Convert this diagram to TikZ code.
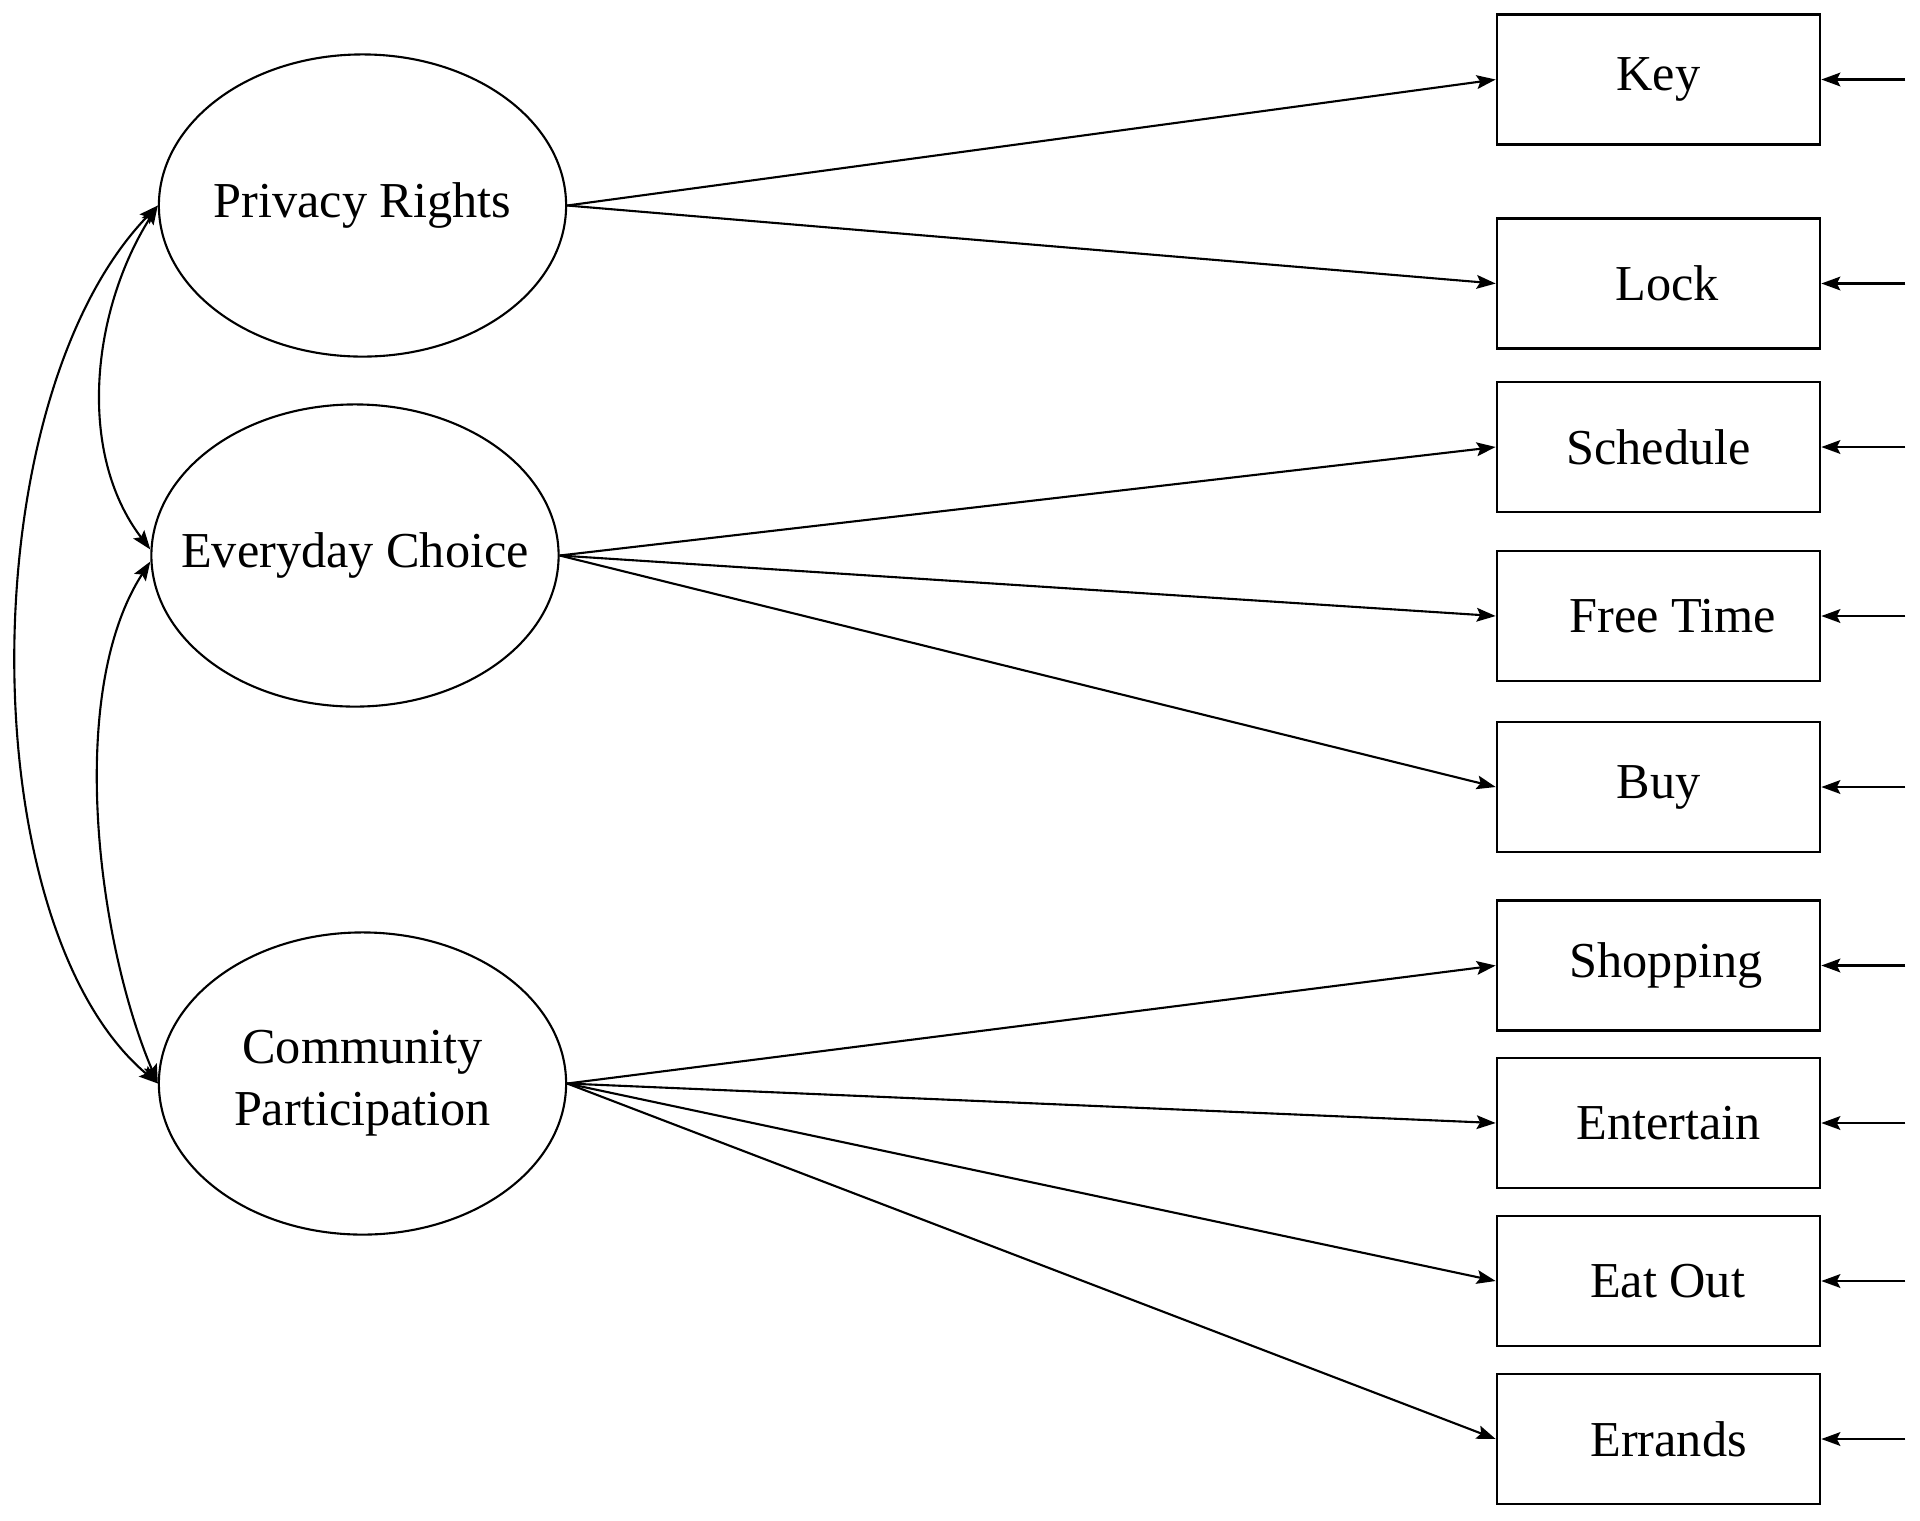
\documentclass[tikz,border=0pt]{standalone}
\usepackage{fontspec}
\setmainfont{Liberation Serif}
\usetikzlibrary{shapes.geometric,arrows.meta}
\newcommand{\zw}[1]{\makebox[0pt]{#1}}
\begin{document}
\begin{tikzpicture}[x=0.01cm,y=-0.01cm,
  txt/.style={font=\fontsize{14.3}{17.6}\selectfont},
  lat/.style={ellipse,draw,line width=0.6pt,minimum width=4.07cm,minimum height=3.02cm,inner sep=0pt,align=center,txt},
  obs/.style={rectangle,draw,line width=0.7pt,minimum width=3.23cm,minimum height=1.30cm,inner sep=0pt,txt},
  tip/.tip={Stealth[length=5.4pt,width=3.9pt,inset=1pt]},
  load/.style={line width=0.6pt,-tip},
  cov/.style={line width=0.6pt,tip-tip},
]
\useasboundingbox[fill=white] (0,0) rectangle (1920,1520);

% latent variables
\node[lat] (pr) at (362.5,205.5) {\zw{Privacy Rights}};
\node[lat] (ec) at (355,555.5) {\zw{Everyday Choice}};
\node[lat] (cp) at (362.5,1083.5) {\zw{Community}\\\zw{Participation}};

% indicators
\node[obs] (key)  at (1658.5,79.5)  {Key};
\node[obs] (lock) at (1658.5,283.5) {\hspace*{0.17cm}Lock};
\node[obs] (sch)  at (1658.5,447)   {Schedule};
\node[obs] (free) at (1658.5,616)   {\hspace*{0.29cm}Free Time};
\node[obs] (buy)  at (1658.5,787)   {Buy};
\node[obs] (shop) at (1658.5,965.5) {\hspace*{0.15cm}Shopping};
\node[obs] (ent)  at (1658.5,1123)  {\hspace*{0.2cm}Entertain};
\node[obs] (eat)  at (1658.5,1281)  {\hspace*{0.18cm}Eat Out};
\node[obs] (err)  at (1658.5,1439)  {\hspace*{0.2cm}Errands};

% loadings
\draw[load] (pr.east) -- (key.west);
\draw[load] (pr.east) -- (lock.west);
\draw[load] (ec.east) -- (sch.west);
\draw[load] (ec.east) -- (free.west);
\draw[load] (ec.east) -- (buy.west);
\draw[load] (cp.east) -- (shop.west);
\draw[load] (cp.east) -- (ent.west);
\draw[load] (cp.east) -- (eat.west);
\draw[load] (cp.east) -- (err.west);

% error terms
\foreach \b in {key,lock,sch,free,buy,shop,ent,eat,err}{
  \coordinate (e\b) at ([xshift=0.84cm]\b.east);
  \draw[load] (e\b) -- (\b.east);
}

% covariances
\coordinate (ecup) at ([yshift=0.06cm]ec.west);
\coordinate (ecdn) at ([yshift=-0.06cm]ec.west);
\draw[cov] (pr.west) .. controls (92,310) and (76,452) .. (ecup);
\draw[cov] (ecdn) .. controls (66,692) and (97,940) .. (cp.west);
\draw[cov] (pr.west) .. controls (-30,400) and (-30,925) .. (cp.west);
\end{tikzpicture}
\end{document}
